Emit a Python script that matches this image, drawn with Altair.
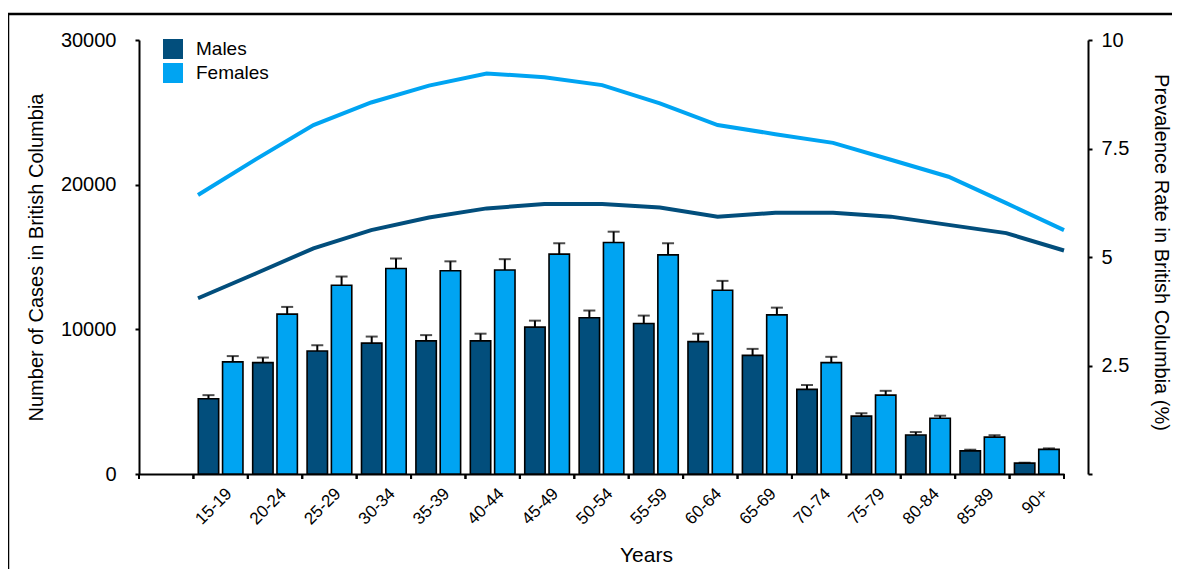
import altair as alt
import pandas as pd

# ---------------- data ----------------
ages = ["15-19", "20-24", "25-29", "30-34", "35-39", "40-44", "45-49", "50-54",
        "55-59", "60-64", "65-69", "70-74", "75-79", "80-84", "85-89", "90+"]
sexes = ["Males", "Females"]
male_cases = [5200, 7700, 8500, 9050, 9200, 9200, 10150, 10800,
              10400, 9150, 8200, 5850, 4000, 2700, 1600, 750]
female_cases = [7750, 11050, 13050, 14200, 14050, 14100, 15200, 16000,
                15150, 12700, 11000, 7700, 5450, 3850, 2550, 1700]
male_err = [250, 350, 400, 450, 400, 500, 450, 500,
            550, 550, 450, 300, 200, 200, 80, 30]
female_err = [400, 500, 600, 700, 650, 750, 750, 750,
              800, 650, 500, 400, 300, 180, 130, 70]
male_rate = [4.05, 4.62, 5.20, 5.62, 5.91, 6.12, 6.22, 6.22,
             6.14, 5.93, 6.02, 6.02, 5.93, 5.74, 5.55, 5.15]
female_rate = [6.43, 7.25, 8.04, 8.56, 8.95, 9.23, 9.14, 8.96,
               8.54, 8.04, 7.83, 7.63, 7.24, 6.85, 6.24, 5.62]
left_ticks = [0, 10000, 20000, 30000]
right_ticks = [0, 2.5, 5, 7.5, 10]

colors = ["#024E7C", "#00A4F2"]
FONT = "Liberation Sans"
x_domain = [""] + ages

bars_df = pd.DataFrame({
    "Age": ages * 2,
    "Sex": ["Males"] * len(ages) + ["Females"] * len(ages),
    "Cases": male_cases + female_cases,
    "Err": male_err + female_err,
})
bars_df["Upper"] = bars_df["Cases"] + bars_df["Err"]

rate_df = pd.DataFrame({
    "Age": ages * 2,
    "Sex": ["Males"] * len(ages) + ["Females"] * len(ages),
    "Rate": male_rate + female_rate,
})
ticks_df = pd.DataFrame({"Age": x_domain})

W, H = 925, 434

x_scale = alt.Scale(domain=x_domain, paddingInner=0, paddingOuter=0)
x_axis = alt.Axis(title="Years", ticks=False, labelAngle=-45, labelAlign="right",
                  labelBaseline="top", labelPadding=11, labelOffset=3,
                  labelFontSize=17, titleFontSize=21, titleX=507, titleY=81,
                  titleAlign="center", titleBaseline="middle", domainWidth=2)


def xenc(band_pos=None):
    if band_pos is None:
        return alt.X("Age:N", scale=x_scale, sort=x_domain, axis=x_axis)
    return alt.X("Age:N", scale=x_scale, sort=x_domain, axis=x_axis, bandPosition=band_pos)


xoff = alt.XOffset("Sex:N", scale=alt.Scale(domain=sexes, paddingInner=0.16, paddingOuter=0.2),
                   sort=sexes)

y_scale = alt.Scale(domain=[0, 30000], nice=False)
y_axis = alt.Axis(title="Number of Cases in British Columbia", values=left_ticks, format="d",
                  tickSize=4, tickWidth=2, domainWidth=2, labelPadding=19, labelFontSize=20,
                  titleFontSize=20, titleAngle=-90, titleX=-103, titleY=217,
                  titleAlign="center", titleBaseline="middle", grid=False)

bars = alt.Chart(bars_df).mark_bar(stroke="black", strokeWidth=1.6).encode(
    x=xenc(),
    xOffset=xoff,
    y=alt.Y("Cases:Q", scale=y_scale, axis=y_axis),
    fill=alt.Fill("Sex:N", scale=alt.Scale(domain=sexes, range=colors), sort=sexes,
                  legend=alt.Legend(title=None, orient="none", legendX=24, legendY=-1,
                                    symbolType="square", symbolSize=324,
                                    symbolStrokeColor="black", symbolStrokeWidth=2,
                                    labelFontSize=19, labelOffset=13, rowPadding=-2,
                                    padding=0)),
)

err = alt.Chart(bars_df).mark_rule(color="black", strokeWidth=2).encode(
    x=xenc(), xOffset=xoff,
    y=alt.Y("Cases:Q", scale=y_scale, axis=y_axis),
    y2="Upper:Q",
)

caps = alt.Chart(bars_df).mark_tick(color="black", thickness=2, size=12).encode(
    x=xenc(), xOffset=xoff,
    y=alt.Y("Upper:Q", scale=y_scale, axis=y_axis),
)

xticks0 = alt.Chart(ticks_df).mark_rule(color="black", strokeWidth=2).encode(
    x=xenc(0), y=alt.value(H), y2=alt.value(H + 5))
xticks1 = alt.Chart(ticks_df).mark_rule(color="black", strokeWidth=2).encode(
    x=xenc(1), y=alt.value(H), y2=alt.value(H + 5))

frame_top = alt.Chart(alt.Data(values=[{}])).mark_rule(color="black", strokeWidth=2.5).encode(
    x=alt.value(-131), x2=alt.value(1100), y=alt.value(-26))
frame_left = alt.Chart(alt.Data(values=[{}])).mark_rule(color="black", strokeWidth=2.5).encode(
    x=alt.value(-131), y=alt.value(-27), y2=alt.value(600))

left_group = alt.layer(bars, err, caps, xticks0, xticks1, frame_top, frame_left)

lines = alt.Chart(rate_df).mark_line(strokeWidth=4).encode(
    x=alt.X("Age:O", scale=alt.Scale(domain=ages, range=[59, W], padding=0), sort=ages, axis=None),
    y=alt.Y("Rate:Q", scale=alt.Scale(domain=[0, 10], nice=False),
            axis=alt.Axis(orient="right", offset=24, title="Prevalence Rate in British Columbia (%)",
                          values=right_ticks, format=".1~f",
                          labelExpr="datum.value == 0 ? '' : datum.label",
                          tickSize=4, tickWidth=2, domainWidth=2, labelPadding=9,
                          labelFontSize=20, titleFontSize=20, titleAngle=90,
                          titleX=72, titleY=212, titleAlign="center", titleBaseline="middle",
                          grid=False)),
    stroke=alt.Stroke("Sex:N", scale=alt.Scale(domain=sexes, range=colors), sort=sexes,
                      legend=alt.Legend(title=None, orient="none", legendX=808, legendY=0,
                                        symbolType="stroke", symbolSize=324,
                                        symbolStrokeWidth=4, labelFontSize=19,
                                        labelOffset=12, rowPadding=-2, padding=0)),
)

chart = alt.layer(left_group, lines).resolve_scale(
    x="independent", y="independent"
).properties(
    width=W, height=H,
    autosize=alt.AutoSizeParams(type="none"),
    padding={"left": 131, "top": 32, "right": 108, "bottom": 95},
).configure_view(stroke=None).configure_axis(
    labelFont=FONT, titleFont=FONT, labelColor="black", titleColor="black",
    domainColor="black", tickColor="black", titleFontWeight="normal",
).configure_legend(labelFont=FONT, labelColor="black")

chart.save("out.html", embed_options={"renderer": "svg", "actions": False})
